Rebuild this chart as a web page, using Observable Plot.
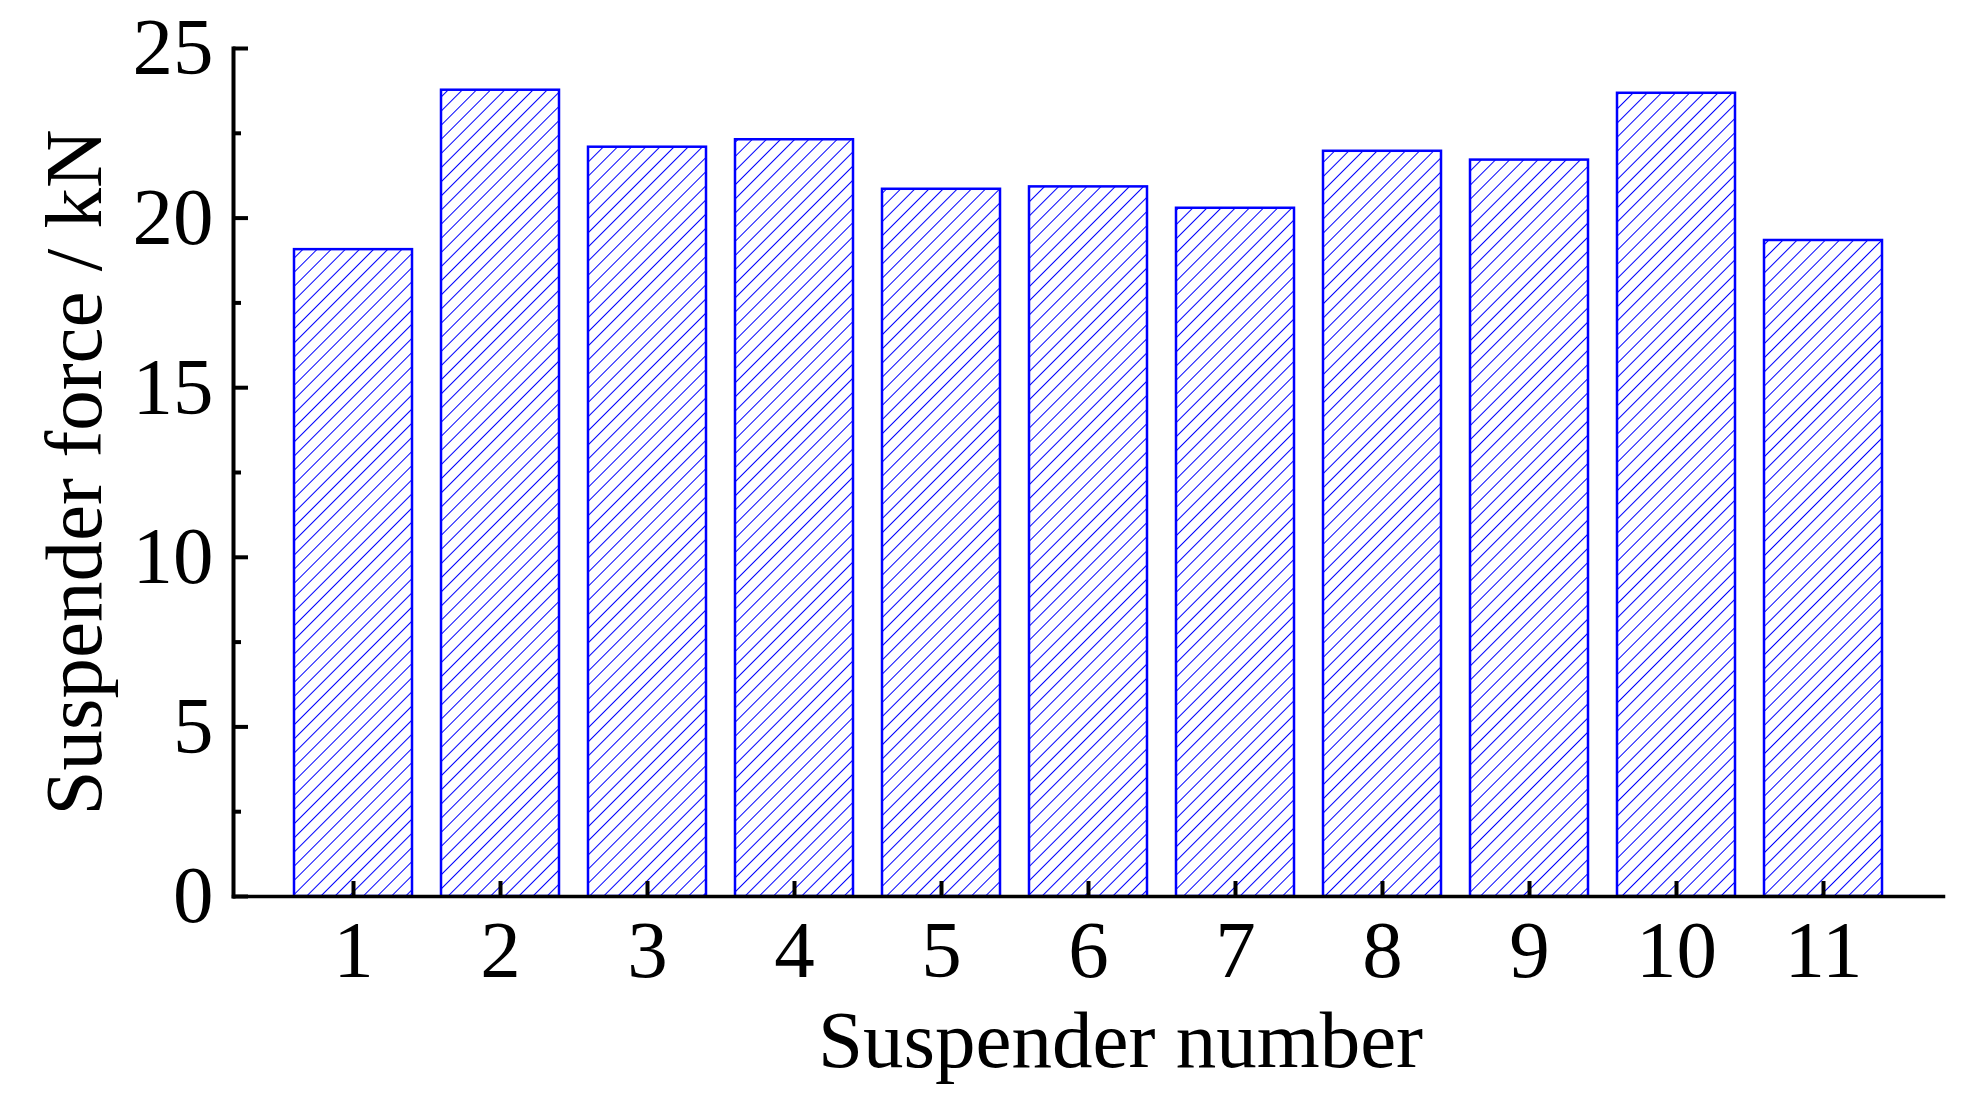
<!DOCTYPE html>
<html>
<head>
<meta charset="utf-8">
<script src="https://cdn.jsdelivr.net/npm/d3@7"></script>
<script src="https://cdn.jsdelivr.net/npm/@observablehq/plot@0.6"></script>
<style>
  html, body { margin: 0; padding: 0; background: #fff; }
  #chart svg { display: block; }
</style>
</head>
<body>
<div id="chart"></div>
<script>
const suspenders = ["1", "2", "3", "4", "5", "6", "7", "8", "9", "10", "11"];
const forces = [19.07, 23.77, 22.09, 22.31, 20.85, 20.92, 20.29, 21.97, 21.71, 23.68, 19.34];
const yMajorTicks = [0, 5, 10, 15, 20, 25];
const yMinorTicks = [2.5, 7.5, 12.5, 17.5, 22.5];
const xTitle = "Suspender number";
const yTitle = "Suspender force / kN";

const data = suspenders.map((s, i) => ({ s, f: forces[i] }));

const FONT = "'Liberation Serif', 'Times New Roman', serif";
const FS = 81;

const defsMark = () => {
  const defs = d3.create("svg:defs");
  const p = defs.append("pattern")
    .attr("id", "hatch")
    .attr("patternUnits", "userSpaceOnUse")
    .attr("width", 10)
    .attr("height", 10)
    .attr("patternTransform", "rotate(45)");
  p.append("line")
    .attr("x1", 0).attr("y1", -1).attr("x2", 0).attr("y2", 11)
    .attr("stroke", "#0000ff").attr("stroke-width", 2.6)
    .attr("shape-rendering", "crispEdges");
  return defs.node();
};

const chart = Plot.plot({
  width: 1965,
  height: 1102,
  marginLeft: 233,
  marginTop: 48,
  marginRight: 22,
  marginBottom: 206,
  style: { fontFamily: FONT, background: "#fff", color: "#000" },
  x: { domain: suspenders, paddingInner: 0.2, paddingOuter: 0.4 },
  y: { domain: [0, 25] },
  marks: [
    defsMark,
    Plot.barY(data, { x: "s", y: "f", fill: "url(#hatch)", stroke: "#0000ff", strokeWidth: 2.5 }),
    // inward ticks
    Plot.axisY({ ticks: yMajorTicks, tickSize: -15, strokeWidth: 4, text: null, label: null }),
    Plot.axisY({ ticks: yMinorTicks, tickSize: -8, strokeWidth: 4, text: null, label: null }),
    Plot.axisX({ tickSize: -15, strokeWidth: 4, text: null, label: null }),
    // tick labels
    Plot.axisY({ ticks: yMajorTicks, tickSize: 0, tickPadding: 20, fontSize: FS, label: null, fill: "#000" }),
    Plot.axisX({ tickSize: 0, tickPadding: 23, fontSize: FS, label: null, fill: "#000" }),
    // axis lines
    Plot.frame({ anchor: "left", strokeWidth: 4, stroke: "#000" }),
    Plot.frame({ anchor: "bottom", strokeWidth: 3.5, stroke: "#000" }),
    // axis titles
    Plot.text([xTitle], { frameAnchor: "bottom", lineAnchor: "bottom", textAnchor: "middle", dy: 170, dx: 32, fontSize: FS, fill: "#000" }),
    Plot.text([yTitle], { frameAnchor: "left", lineAnchor: "bottom", textAnchor: "middle", rotate: -90, dx: -133, fontSize: FS, fill: "#000" })
  ]
});

document.getElementById("chart").appendChild(chart);
</script>
</body>
</html>
